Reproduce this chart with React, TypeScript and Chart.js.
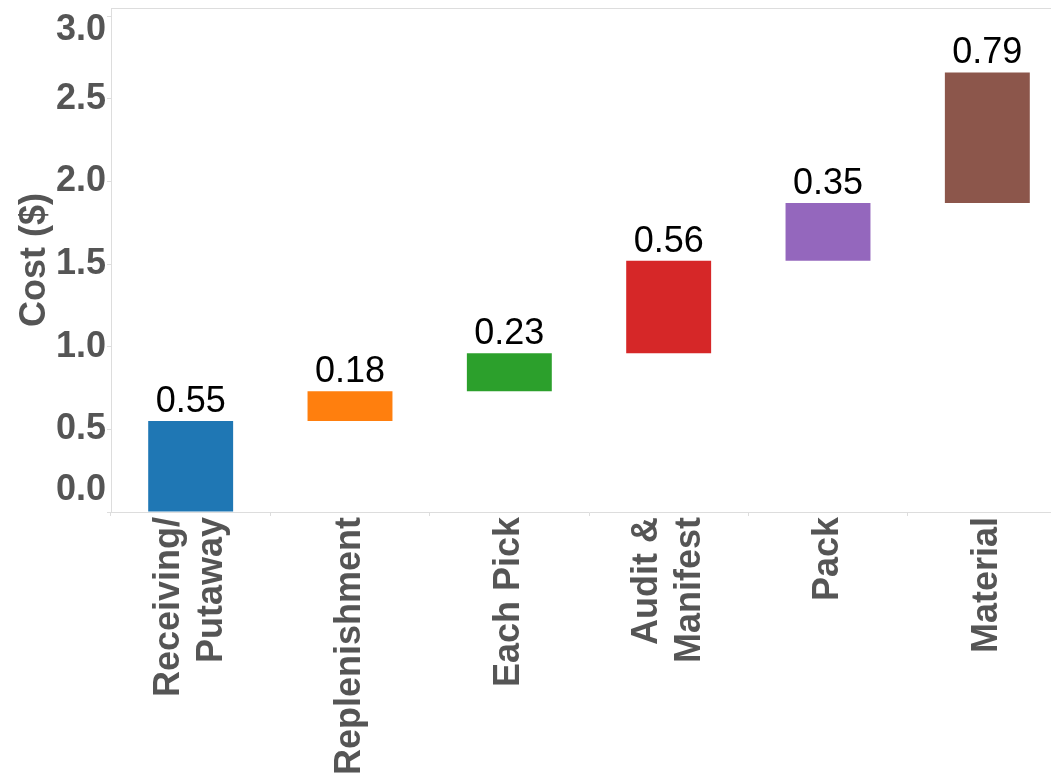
import React, { useEffect, useRef } from 'react';
import { Chart, registerables } from 'chart.js';

Chart.register(...registerables);

const CATEGORIES: string[][] = [
  ['Receiving/', 'Putaway'],
  ['Replenishment'],
  ['Each Pick'],
  ['Audit &', 'Manifest'],
  ['Pack'],
  ['Material'],
];
const VALUES: number[] = [0.55, 0.18, 0.23, 0.56, 0.35, 0.79];
const COLORS: string[] = ['#1f77b4', '#ff7f0e', '#2ca02c', '#d62728', '#9467bd', '#8c564b'];
const Y_TICKS: number[] = [0, 0.5, 1.0, 1.5, 2.0, 2.5, 3.0];
const Y_MAX = 3.05;
const Y_TITLE = 'Cost ($)';

const FONT = '"Liberation Sans", Arial, sans-serif';
const GRAY = '#555555';
const LINE = '#dddddd';

export default function App() {
  const ref = useRef<HTMLCanvasElement | null>(null);

  useEffect(() => {
    if (!ref.current) return;
    // floating bars: each bar starts where the previous one ended
    const floating: [number, number][] = [];
    let run = 0;
    VALUES.forEach((v) => {
      floating.push([run, run + v]);
      run += v;
    });

    const topBorder = {
      id: 'topBorder',
      afterDraw(chart: any) {
        const { ctx, chartArea } = chart;
        ctx.save();
        ctx.strokeStyle = LINE;
        ctx.lineWidth = 1;
        ctx.beginPath();
        ctx.moveTo(chartArea.left, chartArea.top + 0.5);
        ctx.lineTo(chartArea.right, chartArea.top + 0.5);
        ctx.stroke();
        ctx.restore();
      },
    };

    const valueLabels = {
      id: 'valueLabels',
      afterDatasetsDraw(chart: any) {
        const { ctx } = chart;
        const meta = chart.getDatasetMeta(0);
        ctx.save();
        ctx.font = `normal 36px ${FONT}`;
        ctx.fillStyle = '#000000';
        ctx.textAlign = 'center';
        ctx.textBaseline = 'alphabetic';
        meta.data.forEach((bar: any, i: number) => {
          const p = bar.getProps(['x', 'y', 'base'], true);
          const top = Math.min(p.y, p.base);
          ctx.fillText(VALUES[i].toFixed(2), p.x, top - 9);
        });
        ctx.restore();
      },
    };

    const xLabels = {
      id: 'xLabels',
      afterDraw(chart: any) {
        const { ctx, chartArea } = chart;
        const xs = chart.scales.x;
        const lh = 43.2;
        ctx.save();
        ctx.font = `bold 36px ${FONT}`;
        ctx.fillStyle = GRAY;
        ctx.textAlign = 'right';
        ctx.textBaseline = 'middle';
        CATEGORIES.forEach((lines, i) => {
          const px = xs.getPixelForTick(i);
          ctx.save();
          ctx.translate(px, chartArea.bottom + 5);
          ctx.rotate(-Math.PI / 2);
          lines.forEach((line, j) => {
            const off = (j - (lines.length - 1) / 2) * lh;
            ctx.fillText(line, 0, off);
          });
          ctx.restore();
        });
        ctx.restore();
      },
    };

    const chart = new Chart(ref.current, {
      type: 'bar',
      data: {
        labels: CATEGORIES.map((c) => c.join(' ')),
        datasets: [
          {
            data: floating as any,
            backgroundColor: COLORS,
            borderWidth: 0,
            barPercentage: 0.533,
            categoryPercentage: 1.0,
          },
        ],
      },
      options: {
        animation: false,
        responsive: false,
        devicePixelRatio: 1,
        layout: { autoPadding: false, padding: { top: 8, left: 0, right: 8, bottom: 0 } },
        plugins: {
          legend: { display: false },
          tooltip: { enabled: false },
        },
        scales: {
          x: {
            type: 'category',
            offset: true,
            grid: {
              display: true,
              offset: true,
              drawOnChartArea: false,
              drawTicks: true,
              tickLength: 4,
              color: LINE,
            },
            border: { display: true, color: LINE },
            ticks: { display: false },
            afterFit: (s: any) => {
              s.height = 272;
              s.paddingLeft = 0;
              s.paddingRight = 0;
              s.paddingTop = 0;
              s.paddingBottom = 0;
            },
          },
          y: {
            type: 'linear',
            min: 0,
            max: Y_MAX,
            afterBuildTicks: (s: any) => {
              s.ticks = Y_TICKS.map((v) => ({ value: v }));
            },
            grid: {
              display: true,
              drawOnChartArea: false,
              drawTicks: true,
              tickLength: 4,
              color: LINE,
            },
            border: { display: true, color: LINE },
            ticks: {
              autoSkip: false,
              padding: 1,
              color: GRAY,
              font: (ctx: any) => {
                const v = ctx.tick ? ctx.tick.value : 1;
                const lh = v === 0 ? 44 / 36 : v === 3 ? 28 / 36 : 1.2;
                return { family: FONT, size: 36, weight: 'bold', lineHeight: lh } as any;
              },
              callback: (value: any) => {
                const v = Number(value);
                const s = v.toFixed(1);
                if (v === 0) return [s, ''];
                if (v === 3) return ['', s];
                return s;
              },
            },
            title: {
              display: true,
              text: Y_TITLE,
              color: GRAY,
              font: { family: FONT, size: 36, weight: 'bold' },
              padding: { top: 13, bottom: 0 },
            },
            afterFit: (s: any) => {
              s.width = 111;
              s.paddingLeft = 0;
              s.paddingRight = 0;
              s.paddingTop = 0;
              s.paddingBottom = 0;
            },
          },
        },
      },
      plugins: [topBorder, valueLabels, xLabels],
    });

    return () => {
      chart.destroy();
    };
  }, []);

  return (
    <div
      style={{
        position: 'fixed',
        left: 0,
        top: 0,
        width: 1051,
        height: 784,
        overflow: 'hidden',
        background: '#ffffff',
      }}
    >
      <canvas ref={ref} width={1075} height={784} style={{ width: 1075, height: 784, display: 'block' }} />
    </div>
  );
}
